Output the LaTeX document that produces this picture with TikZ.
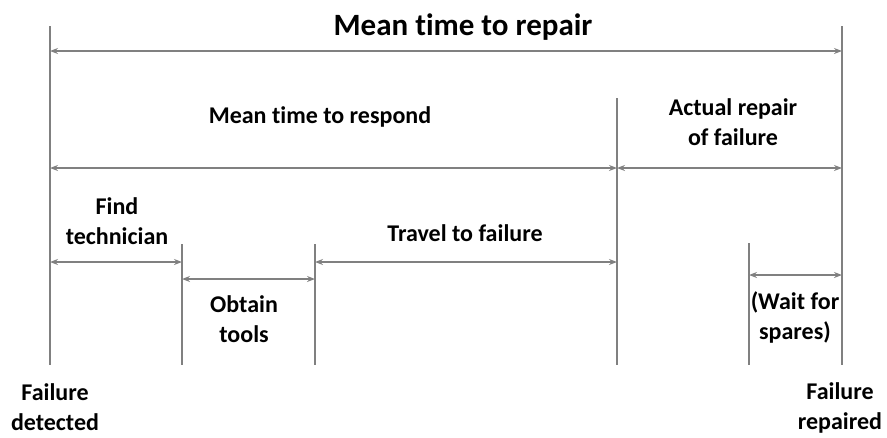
\documentclass[tikz,border=0pt]{standalone}
\usepackage{fontspec}
\setmainfont{Carlito}[Ligatures=NoCommon]
\usetikzlibrary{arrows.meta}
\definecolor{linegray}{RGB}{128,128,128}
\begin{document}
\begin{tikzpicture}[x=1pt,y=-1pt,
  tick/.style={draw=linegray,line width=1.6pt},
  span/.style={draw=linegray,line width=1.6pt,{Stealth[length=8pt,width=6pt]}-{Stealth[length=8pt,width=6pt]}},
  lbl/.style={font=\fontsize{24}{30}\selectfont\bfseries,align=center,anchor=base,inner sep=0pt},
  ttl/.style={font=\fontsize{31}{36}\selectfont\bfseries,anchor=base,inner sep=0pt}]
\useasboundingbox (0,0) rectangle (887,437);
% vertical ticks
\coordinate (Lt) at (50,26);   \coordinate (Lb) at (50,365);
\coordinate (Rt) at (842,26);  \coordinate (Rb) at (842,365);
\coordinate (Mt) at (617,98);  \coordinate (Mb) at (617,365);
\coordinate (At) at (182,244); \coordinate (Ab) at (182,365);
\coordinate (Bt) at (315,244); \coordinate (Bb) at (315,365);
\coordinate (Wt) at (749,243); \coordinate (Wb) at (749,365);
\draw[tick] (Lt) -- (Lb);
\draw[tick] (Rt) -- (Rb);
\draw[tick] (Mt) -- (Mb);
\draw[tick] (At) -- (Ab);
\draw[tick] (Bt) -- (Bb);
\draw[tick] (Wt) -- (Wb);
% spans
\coordinate (s1a) at (50,51);   \coordinate (s1b) at (842,51);
\coordinate (s2a) at (50,168);  \coordinate (s2b) at (617,168);
\coordinate (s3a) at (617,168); \coordinate (s3b) at (842,168);
\coordinate (s4a) at (50,262);  \coordinate (s4b) at (182,262);
\coordinate (s5a) at (182,279); \coordinate (s5b) at (315,279);
\coordinate (s6a) at (315,262); \coordinate (s6b) at (617,262);
\coordinate (s7a) at (749,275); \coordinate (s7b) at (842,275);
\draw[span] (s1a) -- (s1b);
\draw[span] (s2a) -- (s2b);
\draw[span] (s3a) -- (s3b);
\draw[span] (s4a) -- (s4b);
\draw[span] (s5a) -- (s5b);
\draw[span] (s6a) -- (s6b);
\draw[span] (s7a) -- (s7b);
% labels (multi-line nodes: base = last line's baseline)
\node[ttl] (title) at (463,35) {Mean time to repair};
\node[lbl] (respond) at (320,123) {Mean time to respond};
\node[lbl] (actual) at (733,145) {Actual repair\\of failure};
\node[lbl] (find) at (117,244) {Find\\technician};
\node[lbl] (obtain) at (244,342) {Obtain\\tools};
\node[lbl] (travel) at (465,241) {Travel to failure};
\node[lbl] (wait) at (795,339) {(Wait for\\spares)};
\node[lbl] (detected) at (55,430) {Failure\\detected};
\node[lbl] (repaired) at (840,429) {Failure\\repaired};
\end{tikzpicture}
\end{document}
